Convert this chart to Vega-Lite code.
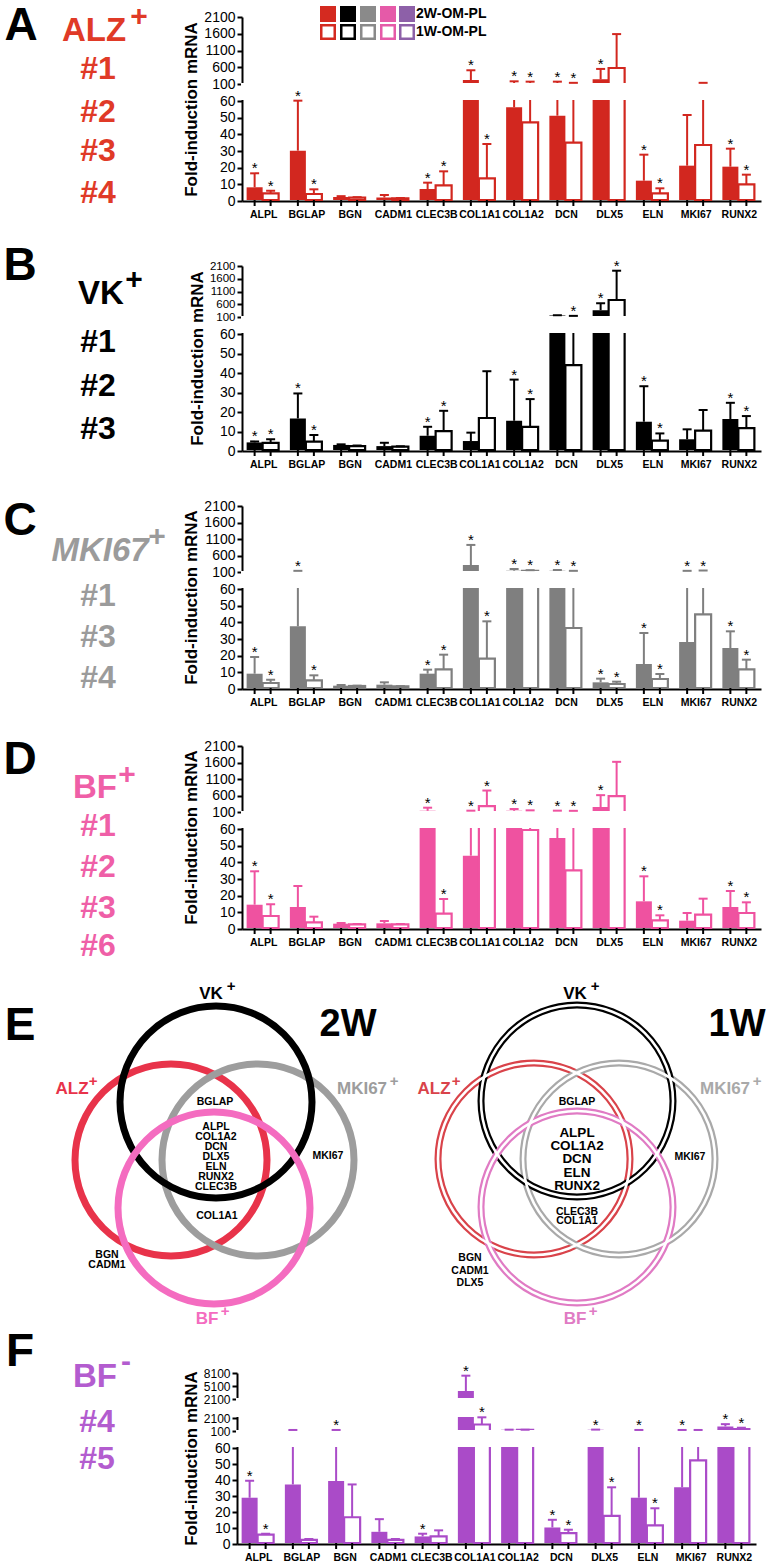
{
"$schema":"https://vega.github.io/schema/vega-lite/v6.json",
"padding":0,
"spacing":0,
"config":{"view":{"stroke":null},"font":"Liberation Sans","axis":{"labelFont":"Liberation Sans","titleFont":"Liberation Sans"}},
"datasets":{
"dA":[
{"g":"ALPL","w":"2W","m":7.6,"u":16,"s":1},{"g":"ALPL","w":"1W","m":4,"u":5.6,"s":1},
{"g":"BGLAP","w":"2W","m":29.6,"u":59.6,"s":1},{"g":"BGLAP","w":"1W","m":3.6,"u":6.4,"s":1},
{"g":"BGN","w":"2W","m":1.8,"u":2.3,"s":0},{"g":"BGN","w":"1W","m":1.4,"u":1.7,"s":0},
{"g":"CADM1","w":"2W","m":1.5,"u":3,"s":0},{"g":"CADM1","w":"1W","m":1,"u":1.2,"s":0},
{"g":"CLEC3B","w":"2W","m":6.6,"u":10.4,"s":1},{"g":"CLEC3B","w":"1W","m":8.8,"u":17.2,"s":1},
{"g":"COL1A1","w":"2W","m":190,"u":480,"s":1},{"g":"COL1A1","w":"1W","m":13,"u":33.6,"s":1},
{"g":"COL1A2","w":"2W","m":55.6,"u":150,"s":1},{"g":"COL1A2","w":"1W","m":46.6,"u":140,"s":1},
{"g":"DCN","w":"2W","m":50.6,"u":140,"s":1},{"g":"DCN","w":"1W","m":34.4,"u":105,"s":1},
{"g":"DLX5","w":"2W","m":210,"u":520,"s":1},{"g":"DLX5","w":"1W","m":548,"u":1560,"s":0},
{"g":"ELN","w":"2W","m":11.6,"u":27.2,"s":1},{"g":"ELN","w":"1W","m":4,"u":7,"s":1},
{"g":"MKI67","w":"2W","m":20.6,"u":51,"s":0},{"g":"MKI67","w":"1W","m":33,"u":105,"s":0},
{"g":"RUNX2","w":"2W","m":20,"u":30.8,"s":1},{"g":"RUNX2","w":"1W","m":9.4,"u":15.2,"s":1}],
"dB":[
{"g":"ALPL","w":"2W","m":3.9,"u":4.4,"s":1},{"g":"ALPL","w":"1W","m":3.7,"u":5.5,"s":1},
{"g":"BGLAP","w":"2W","m":16.2,"u":29,"s":1},{"g":"BGLAP","w":"1W","m":4.3,"u":7.7,"s":1},
{"g":"BGN","w":"2W","m":2.6,"u":2.9,"s":0},{"g":"BGN","w":"1W","m":2,"u":2.3,"s":0},
{"g":"CADM1","w":"2W","m":2,"u":3.7,"s":0},{"g":"CADM1","w":"1W","m":1.7,"u":1.9,"s":0},
{"g":"CLEC3B","w":"2W","m":7.3,"u":11.9,"s":1},{"g":"CLEC3B","w":"1W","m":9.7,"u":20.1,"s":1},
{"g":"COL1A1","w":"2W","m":4.6,"u":8.9,"s":0},{"g":"COL1A1","w":"1W","m":16.4,"u":40.4,"s":0},
{"g":"COL1A2","w":"2W","m":15,"u":36.1,"s":1},{"g":"COL1A2","w":"1W","m":11.9,"u":26.1,"s":1},
{"g":"DCN","w":"2W","m":115,"u":130,"s":0},{"g":"DCN","w":"1W","m":43.5,"u":105,"s":1},
{"g":"DLX5","w":"2W","m":330,"u":600,"s":1},{"g":"DLX5","w":"1W","m":727,"u":1876,"s":1},
{"g":"ELN","w":"2W","m":14.5,"u":32.7,"s":1},{"g":"ELN","w":"1W","m":4.8,"u":8.5,"s":1},
{"g":"MKI67","w":"2W","m":5.5,"u":10.6,"s":0},{"g":"MKI67","w":"1W","m":9.9,"u":20.5,"s":0},
{"g":"RUNX2","w":"2W","m":15.9,"u":24.2,"s":1},{"g":"RUNX2","w":"1W","m":11.2,"u":17.4,"s":1}],
"dC":[
{"g":"ALPL","w":"2W","m":8.6,"u":18.6,"s":1},{"g":"ALPL","w":"1W","m":3,"u":5,"s":1},
{"g":"BGLAP","w":"2W","m":37,"u":105,"s":1},{"g":"BGLAP","w":"1W","m":4.6,"u":7.6,"s":1},
{"g":"BGN","w":"2W","m":1.4,"u":1.8,"s":0},{"g":"BGN","w":"1W","m":1.2,"u":1.4,"s":0},
{"g":"CADM1","w":"2W","m":2,"u":3.4,"s":0},{"g":"CADM1","w":"1W","m":1,"u":1.1,"s":0},
{"g":"CLEC3B","w":"2W","m":8.6,"u":11,"s":1},{"g":"CLEC3B","w":"1W","m":11.2,"u":20,"s":1},
{"g":"COL1A1","w":"2W","m":280,"u":890,"s":1},{"g":"COL1A1","w":"1W","m":17.6,"u":40,"s":1},
{"g":"COL1A2","w":"2W","m":110,"u":160,"s":1},{"g":"COL1A2","w":"1W","m":105,"u":125,"s":1},
{"g":"DCN","w":"2W","m":105,"u":130,"s":1},{"g":"DCN","w":"1W","m":36,"u":105,"s":1},
{"g":"DLX5","w":"2W","m":3.4,"u":5.6,"s":1},{"g":"DLX5","w":"1W","m":2.4,"u":3.8,"s":1},
{"g":"ELN","w":"2W","m":14.4,"u":33,"s":1},{"g":"ELN","w":"1W","m":5.4,"u":8.4,"s":1},
{"g":"MKI67","w":"2W","m":27.6,"u":105,"s":1},{"g":"MKI67","w":"1W","m":44.2,"u":115,"s":1},
{"g":"RUNX2","w":"2W","m":24,"u":34,"s":1},{"g":"RUNX2","w":"1W","m":11.2,"u":17,"s":1}],
"dD":[
{"g":"ALPL","w":"2W","m":14,"u":34,"s":1},{"g":"ALPL","w":"1W","m":7.2,"u":14.2,"s":1},
{"g":"BGLAP","w":"2W","m":12.6,"u":25.2,"s":0},{"g":"BGLAP","w":"1W","m":3.4,"u":6.8,"s":0},
{"g":"BGN","w":"2W","m":2.6,"u":3,"s":0},{"g":"BGN","w":"1W","m":2.2,"u":2.4,"s":0},
{"g":"CADM1","w":"2W","m":2.8,"u":4.2,"s":0},{"g":"CADM1","w":"1W","m":2.2,"u":2.4,"s":0},
{"g":"CLEC3B","w":"2W","m":105,"u":200,"s":1},{"g":"CLEC3B","w":"1W","m":8.6,"u":17.4,"s":1},
{"g":"COL1A1","w":"2W","m":43.4,"u":110,"s":1},{"g":"COL1A1","w":"1W","m":250,"u":720,"s":1},
{"g":"COL1A2","w":"2W","m":105,"u":160,"s":1},{"g":"COL1A2","w":"1W","m":58.8,"u":120,"s":1},
{"g":"DCN","w":"2W","m":54,"u":110,"s":1},{"g":"DCN","w":"1W","m":34.6,"u":105,"s":1},
{"g":"DLX5","w":"2W","m":220,"u":580,"s":1},{"g":"DLX5","w":"1W","m":550,"u":1590,"s":0},
{"g":"ELN","w":"2W","m":16,"u":31,"s":1},{"g":"ELN","w":"1W","m":4.6,"u":7.6,"s":1},
{"g":"MKI67","w":"2W","m":4.4,"u":9,"s":0},{"g":"MKI67","w":"1W","m":8,"u":17.6,"s":0},
{"g":"RUNX2","w":"2W","m":12.6,"u":22.2,"s":1},{"g":"RUNX2","w":"1W","m":9,"u":15.4,"s":1}],
"dF":[
{"g":"ALPL","w":"2W","m":28.3,"u":38.9,"s":1},{"g":"ALPL","w":"1W","m":5.2,"u":5.8,"s":1},
{"g":"BGLAP","w":"2W","m":36.6,"u":105,"s":0},{"g":"BGLAP","w":"1W","m":2,"u":2.5,"s":0},
{"g":"BGN","w":"2W","m":38.7,"u":105,"s":1},{"g":"BGN","w":"1W","m":16.1,"u":36.6,"s":0},
{"g":"CADM1","w":"2W","m":7,"u":14.9,"s":0},{"g":"CADM1","w":"1W","m":1.9,"u":2.5,"s":0},
{"g":"CLEC3B","w":"2W","m":4.1,"u":5.8,"s":1},{"g":"CLEC3B","w":"1W","m":4.1,"u":7.9,"s":0},
{"g":"COL1A1","w":"2W","m":3700,"u":7250,"s":1},{"g":"COL1A1","w":"1W","m":950,"u":2050,"s":1},
{"g":"COL1A2","w":"2W","m":130,"u":150,"s":0},{"g":"COL1A2","w":"1W","m":120,"u":140,"s":0},
{"g":"DCN","w":"2W","m":9.7,"u":14.5,"s":1},{"g":"DCN","w":"1W","m":6.2,"u":8.3,"s":1},
{"g":"DLX5","w":"2W","m":130,"u":160,"s":1},{"g":"DLX5","w":"1W","m":17,"u":34.8,"s":1},
{"g":"ELN","w":"2W","m":28.3,"u":105,"s":1},{"g":"ELN","w":"1W","m":11,"u":21.7,"s":1},
{"g":"MKI67","w":"2W","m":34.8,"u":105,"s":1},{"g":"MKI67","w":"1W","m":51.7,"u":105,"s":0},
{"g":"RUNX2","w":"2W","m":650,"u":1000,"s":1},{"g":"RUNX2","w":"1W","m":250,"u":450,"s":1}],
"leg":[
{"r":"2W","x":325,"y":14,"c":"lALZ"},{"r":"2W","x":345,"y":14,"c":"lVK"},{"r":"2W","x":365,"y":14,"c":"lMKI"},{"r":"2W","x":385,"y":14,"c":"lBF"},{"r":"2W","x":404,"y":14,"c":"lBFn"},
{"r":"1W","x":325,"y":32,"c":"lALZ"},{"r":"1W","x":345,"y":32,"c":"lVK"},{"r":"1W","x":365,"y":32,"c":"lMKI"},{"r":"1W","x":385,"y":32,"c":"lBF"},{"r":"1W","x":404,"y":32,"c":"lBFn"}],
"labTop":[
{"t":"A","x":21,"y":26,"k":"letter","c":"ink"},
{"t":"ALZ","x":94,"y":31,"k":"name","c":"ALZ"},
{"t":"+","x":139,"y":17,"k":"plus","c":"ALZ"},
{"t":"#1","x":98,"y":69,"k":"id","c":"ALZ"},
{"t":"#2","x":98,"y":112,"k":"id","c":"ALZ"},
{"t":"#3","x":98,"y":151,"k":"id","c":"ALZ"},
{"t":"#4","x":98,"y":193,"k":"id","c":"ALZ"},
{"t":"B","x":20,"y":266,"k":"letter","c":"ink"},
{"t":"VK","x":101,"y":294,"k":"name","c":"VK"},
{"t":"+","x":134,"y":280,"k":"plus","c":"VK"},
{"t":"#1","x":98,"y":342,"k":"id","c":"VK"},
{"t":"#2","x":98,"y":386,"k":"id","c":"VK"},
{"t":"#3","x":98,"y":429,"k":"id","c":"VK"},
{"t":"C","x":20,"y":521,"k":"letter","c":"ink"},
{"t":"MKI67","x":100,"y":551,"k":"nameI","c":"MKI67"},
{"t":"+","x":157,"y":537,"k":"plus","c":"MKI67"},
{"t":"#1","x":98,"y":596,"k":"id","c":"MKI67"},
{"t":"#3","x":98,"y":637,"k":"id","c":"MKI67"},
{"t":"#4","x":98,"y":678,"k":"id","c":"MKI67"},
{"t":"D","x":20,"y":760,"k":"letter","c":"ink"},
{"t":"BF","x":95,"y":788,"k":"name","c":"BF"},
{"t":"+","x":127,"y":775,"k":"plus","c":"BF"},
{"t":"#1","x":98,"y":826,"k":"id","c":"BF"},
{"t":"#2","x":98,"y":867,"k":"id","c":"BF"},
{"t":"#3","x":98,"y":908,"k":"id","c":"BF"},
{"t":"#6","x":98,"y":946,"k":"id","c":"BF"}],
"labF":[
{"t":"F","x":20,"y":1352,"k":"letter","c":"ink"},
{"t":"BF","x":95,"y":1377,"k":"name","c":"BFn"},
{"t":"-","x":126,"y":1362,"k":"plus","c":"BFn"},
{"t":"#4","x":97,"y":1422,"k":"id","c":"BFn"},
{"t":"#5","x":97,"y":1459,"k":"id","c":"BFn"}],
"vc":[
{"v":"2W","x":171,"y":1160,"c":"vALZ2"},{"v":"2W","x":258,"y":1160,"c":"vMKI2"},{"v":"2W","x":216,"y":1102,"c":"ink"},{"v":"2W","x":214,"y":1208,"c":"vBF2"},
{"v":"1W","x":534,"y":1159,"c":"vALZ1"},{"v":"1W","x":619,"y":1159,"c":"vMKI1"},{"v":"1W","x":577,"y":1101,"c":"ink"},{"v":"1W","x":577,"y":1207,"c":"vBF1"}],
"vt":[
{"t":"E","x":20,"y":1026,"k":"letter","c":"ink"},
{"t":"2W","x":348,"y":1025,"k":"big","c":"ink"},
{"t":"1W","x":737,"y":1025,"k":"big","c":"ink"},
{"t":"VK","x":211,"y":994,"k":"set","c":"ink"},{"t":"+","x":231,"y":986,"k":"splus","c":"ink"},
{"t":"ALZ","x":72,"y":1089,"k":"set","c":"vALZ2"},{"t":"+","x":93,"y":1081,"k":"splus","c":"vALZ2"},
{"t":"MKI67","x":362,"y":1089,"k":"set","c":"vMKI2"},{"t":"+","x":394,"y":1081,"k":"splus","c":"vMKI2"},
{"t":"BF","x":207,"y":1319,"k":"set","c":"vBF2"},{"t":"+","x":225,"y":1311,"k":"splus","c":"vBF2"},
{"t":"VK","x":575,"y":994,"k":"set","c":"ink"},{"t":"+","x":595,"y":986,"k":"splus","c":"ink"},
{"t":"ALZ","x":434,"y":1089,"k":"set","c":"vALZ1"},{"t":"+","x":456,"y":1081,"k":"splus","c":"vALZ1"},
{"t":"MKI67","x":725,"y":1089,"k":"set","c":"vMKI1"},{"t":"+","x":757,"y":1081,"k":"splus","c":"vMKI1"},
{"t":"BF","x":575,"y":1319,"k":"set","c":"vBF1"},{"t":"+","x":593,"y":1311,"k":"splus","c":"vBF1"},
{"t":"BGLAP","x":215,"y":1102,"k":"gene","c":"ink"},
{"t":"ALPL","x":216,"y":1127,"k":"gene","c":"ink"},
{"t":"COL1A2","x":216,"y":1137,"k":"gene","c":"ink"},
{"t":"DCN","x":216,"y":1147,"k":"gene","c":"ink"},
{"t":"DLX5","x":216,"y":1157,"k":"gene","c":"ink"},
{"t":"ELN","x":216,"y":1167,"k":"gene","c":"ink"},
{"t":"RUNX2","x":216,"y":1177,"k":"gene","c":"ink"},
{"t":"CLEC3B","x":216,"y":1187,"k":"gene","c":"ink"},
{"t":"MKI67","x":328,"y":1156,"k":"gene","c":"ink"},
{"t":"COL1A1","x":217,"y":1216,"k":"gene","c":"ink"},
{"t":"BGN","x":107,"y":1255,"k":"gene","c":"ink"},
{"t":"CADM1","x":107,"y":1265,"k":"gene","c":"ink"},
{"t":"BGLAP","x":577,"y":1102,"k":"gene","c":"ink"},
{"t":"MKI67","x":690,"y":1157,"k":"gene","c":"ink"},
{"t":"CLEC3B","x":577,"y":1212,"k":"gene","c":"ink"},
{"t":"COL1A1","x":577,"y":1221,"k":"gene","c":"ink"},
{"t":"BGN","x":470,"y":1258,"k":"gene","c":"ink"},
{"t":"CADM1","x":470,"y":1271,"k":"gene","c":"ink"},
{"t":"DLX5","x":470,"y":1283,"k":"gene","c":"ink"},
{"t":"ALPL","x":577,"y":1133,"k":"gene2","c":"ink"},
{"t":"COL1A2","x":577,"y":1146,"k":"gene2","c":"ink"},
{"t":"DCN","x":577,"y":1159,"k":"gene2","c":"ink"},
{"t":"ELN","x":577,"y":1173,"k":"gene2","c":"ink"},
{"t":"RUNX2","x":577,"y":1186,"k":"gene2","c":"ink"}]
},
"vconcat":[
{"hconcat":[
 {"width":181,"height":962,"data":{"name":"labTop"},
  "encoding":{"x":{"field":"x","type":"quantitative","scale":{"domain":[0,181],"nice":false,"zero":false},"axis":null},
   "y":{"field":"y","type":"quantitative","scale":{"domain":[0,962],"nice":false,"zero":false,"reverse":true},"axis":null},
   "text":{"field":"t"},
   "color":{"field":"c","type":"nominal","legend":null,"scale":{"domain":["ALZ","VK","MKI67","BF","BFn","ink","vALZ2","vMKI2","vBF2","vALZ1","vMKI1","vBF1","lALZ","lVK","lMKI","lBF","lBFn"],"range":["#e03a27","#000000","#9b9b9b","#ef5fa7","#b35ccf","#000000","#e8334a","#9d9d9d","#f46cc0","#d9434a","#a9a9a9","#e07bc4","#d42a20","#000000","#8a8a8a","#e55aa8","#8d60a8"]}}},
  "layer":[
   {"transform":[{"filter":"datum.k=='letter'"}],"mark":{"type":"text","fontSize":46,"fontWeight":"bold","baseline":"middle","align":"center"}},
   {"transform":[{"filter":"datum.k=='name'"}],"mark":{"type":"text","fontSize":33,"fontWeight":"bold","baseline":"middle","align":"center"}},
   {"transform":[{"filter":"datum.k=='nameI'"}],"mark":{"type":"text","fontSize":33,"fontWeight":"bold","fontStyle":"italic","baseline":"middle","align":"center"}},
   {"transform":[{"filter":"datum.k=='plus'"}],"mark":{"type":"text","fontSize":30,"fontWeight":"bold","baseline":"middle","align":"center"}},
   {"transform":[{"filter":"datum.k=='id'"}],"mark":{"type":"text","fontSize":32,"fontWeight":"bold","baseline":"middle","align":"center"}}
  ]},
 {"vconcat":[
  {"width":519,"height":200,
   "layer":[
    {"layer":[
     {"data":{"name":"dA"},
      "encoding":{"x":{"field":"g","type":"nominal","sort":null,"scale":{"paddingInner":0.26,"paddingOuter":0.13},"axis":{"title":null,"labelFontSize":10.5,"labelFontWeight":"bold","labelColor":"#000","labelAngle":0,"ticks":false,"labelPadding":8,"domainWidth":2,"domainColor":"#000","translate":1.5,"labelOverlap":false}},
       "xOffset":{"field":"w","type":"nominal","sort":["2W","1W"]},
       "y":{"field":"m","type":"quantitative","scale":{"domain":[0,60,100,2100],"range":[200,100,83,16],"nice":false,"zero":false},"axis":{"values":[0,10,20,30,40,50,60,100,600,1100,1600,2100],"format":"d","title":"Fold-induction mRNA","titleFontSize":17,"titleFontWeight":"bold","titleColor":"#000","labelFontSize":14,"labelColor":"#000","tickSize":5,"tickWidth":2,"tickColor":"#000","domainWidth":2,"domainColor":"#000","grid":false,"labelPadding":2,"titlePadding":3,"translate":1.5,"labelOverlap":false}}},
      "layer":[
       {"transform":[{"filter":"datum.w=='2W'"}],"mark":{"type":"bar","fill":"#d2271f"}},
       {"transform":[{"filter":"datum.w=='1W'"}],"mark":{"type":"bar","fill":"white","stroke":"#d2271f","strokeWidth":2.2}},
       {"mark":{"type":"rule","color":"#d2271f","strokeWidth":2},"encoding":{"y2":{"field":"u"}}}
      ]},
     {"data":{"values":[{}]},"mark":{"type":"rect","fill":"white"},"encoding":{"y":{"datum":60,"type":"quantitative","axis":{"values":[0,10,20,30,40,50,60,100,600,1100,1600,2100],"format":"d","title":"Fold-induction mRNA","titleFontSize":17,"titleFontWeight":"bold","titleColor":"#000","labelFontSize":14,"labelColor":"#000","tickSize":5,"tickWidth":2,"tickColor":"#000","domainWidth":2,"domainColor":"#000","grid":false,"labelPadding":2,"titlePadding":3,"translate":1.5,"labelOverlap":false}},"y2":{"datum":100}}},
     {"data":{"name":"dA"},
      "encoding":{"x":{"field":"g","type":"nominal","sort":null,"scale":{"paddingInner":0.26,"paddingOuter":0.13},"axis":{"title":null,"labelFontSize":10.5,"labelFontWeight":"bold","labelColor":"#000","labelAngle":0,"ticks":false,"labelPadding":8,"domainWidth":2,"domainColor":"#000","translate":1.5,"labelOverlap":false}},
       "xOffset":{"field":"w","type":"nominal","sort":["2W","1W"]},
       "y":{"field":"u","type":"quantitative","axis":{"values":[0,10,20,30,40,50,60,100,600,1100,1600,2100],"format":"d","title":"Fold-induction mRNA","titleFontSize":17,"titleFontWeight":"bold","titleColor":"#000","labelFontSize":14,"labelColor":"#000","tickSize":5,"tickWidth":2,"tickColor":"#000","domainWidth":2,"domainColor":"#000","grid":false,"labelPadding":2,"titlePadding":3,"translate":1.5,"labelOverlap":false}}},
      "layer":[
       {"mark":{"type":"tick","color":"#d2271f","thickness":2,"size":9,"orient":"horizontal","opacity":1}},
       {"transform":[{"filter":"datum.s==1"}],"mark":{"type":"text","text":"*","fontSize":15,"baseline":"alphabetic","color":"#000"}},
       {"mark":{"type":"rule","color":"#000","strokeWidth":2,"y2Offset":6},"encoding":{"y":{"datum":0,"type":"quantitative","axis":{"values":[0,10,20,30,40,50,60,100,600,1100,1600,2100],"format":"d","title":"Fold-induction mRNA","titleFontSize":17,"titleFontWeight":"bold","titleColor":"#000","labelFontSize":14,"labelColor":"#000","tickSize":5,"tickWidth":2,"tickColor":"#000","domainWidth":2,"domainColor":"#000","grid":false,"labelPadding":2,"titlePadding":3,"translate":1.5,"labelOverlap":false}},"y2":{"datum":0}}}
      ]}
    ]},
    {"layer":[
     {"data":{"name":"leg"},"transform":[{"filter":"datum.r=='2W'"}],"mark":{"type":"square","size":256,"filled":true,"opacity":1},
      "encoding":{"x":{"field":"x","type":"quantitative","scale":{"domain":[238,757],"nice":false,"zero":false},"axis":null},"y":{"field":"y","type":"quantitative","scale":{"domain":[0,200],"nice":false,"zero":false,"reverse":true},"axis":null},
       "fill":{"field":"c","type":"nominal","legend":null,"scale":{"domain":["ALZ","VK","MKI67","BF","BFn","ink","vALZ2","vMKI2","vBF2","vALZ1","vMKI1","vBF1","lALZ","lVK","lMKI","lBF","lBFn"],"range":["#e03a27","#000000","#9b9b9b","#ef5fa7","#b35ccf","#000000","#e8334a","#9d9d9d","#f46cc0","#d9434a","#a9a9a9","#e07bc4","#d42a20","#000000","#8a8a8a","#e55aa8","#8d60a8"]}}}},
     {"data":{"name":"leg"},"transform":[{"filter":"datum.r=='1W'"}],"mark":{"type":"square","size":182,"filled":true,"fill":"white","strokeWidth":2.5,"opacity":1},
      "encoding":{"x":{"field":"x","type":"quantitative","scale":{"domain":[238,757],"nice":false,"zero":false},"axis":null},"y":{"field":"y","type":"quantitative","scale":{"domain":[0,200],"nice":false,"zero":false,"reverse":true},"axis":null},
       "stroke":{"field":"c","type":"nominal","legend":null,"scale":{"domain":["ALZ","VK","MKI67","BF","BFn","ink","vALZ2","vMKI2","vBF2","vALZ1","vMKI1","vBF1","lALZ","lVK","lMKI","lBF","lBFn"],"range":["#e03a27","#000000","#9b9b9b","#ef5fa7","#b35ccf","#000000","#e8334a","#9d9d9d","#f46cc0","#d9434a","#a9a9a9","#e07bc4","#d42a20","#000000","#8a8a8a","#e55aa8","#8d60a8"]}}}},
     {"data":{"values":[{"t":"2W-OM-PL","x":413,"y":14},{"t":"1W-OM-PL","x":413,"y":32}]},"mark":{"type":"text","align":"left","baseline":"middle","fontSize":14,"fontWeight":"bold","color":"#000"},
      "encoding":{"x":{"field":"x","type":"quantitative","scale":{"domain":[238,757],"nice":false,"zero":false},"axis":null},"y":{"field":"y","type":"quantitative","scale":{"domain":[0,200],"nice":false,"zero":false,"reverse":true},"axis":null},"text":{"field":"t"}}}
    ]}
   ],
   "resolve":{"scale":{"x":"independent","y":"independent"}}},
  {"width":519,"height":230,
   "layer":[
     {"data":{"name":"dB"},
      "encoding":{"x":{"field":"g","type":"nominal","sort":null,"scale":{"paddingInner":0.26,"paddingOuter":0.13},"axis":{"title":null,"labelFontSize":10.5,"labelFontWeight":"bold","labelColor":"#000","labelAngle":0,"ticks":false,"labelPadding":8,"domainWidth":2,"domainColor":"#000","translate":1.5,"labelOverlap":false}},
       "xOffset":{"field":"w","type":"nominal","sort":["2W","1W"]},
       "y":{"field":"m","type":"quantitative","scale":{"domain":[0,60,100,2100],"range":[230,113,96,45],"nice":false,"zero":false},"axis":{"values":[0,10,20,30,40,50,60,100,600,1100,1600,2100],"format":"d","title":"Fold-induction mRNA","titleY":137,"titleFontSize":17,"titleFontWeight":"bold","titleColor":"#000","labelFontSize":{"condition":{"test":"datum.value>=100","value":11.5},"value":14},"labelColor":"#000","tickSize":5,"tickWidth":2,"tickColor":"#000","domainWidth":2,"domainColor":"#000","grid":false,"labelPadding":2,"titlePadding":3,"translate":1.5,"labelOverlap":false}}},
      "layer":[
       {"transform":[{"filter":"datum.w=='2W'"}],"mark":{"type":"bar","fill":"#000000"}},
       {"transform":[{"filter":"datum.w=='1W'"}],"mark":{"type":"bar","fill":"white","stroke":"#000000","strokeWidth":2.2}},
       {"mark":{"type":"rule","color":"#000000","strokeWidth":2},"encoding":{"y2":{"field":"u"}}}
      ]},
     {"data":{"values":[{}]},"mark":{"type":"rect","fill":"white"},"encoding":{"y":{"datum":60,"type":"quantitative","axis":{"values":[0,10,20,30,40,50,60,100,600,1100,1600,2100],"format":"d","title":"Fold-induction mRNA","titleY":137,"titleFontSize":17,"titleFontWeight":"bold","titleColor":"#000","labelFontSize":{"condition":{"test":"datum.value>=100","value":11.5},"value":14},"labelColor":"#000","tickSize":5,"tickWidth":2,"tickColor":"#000","domainWidth":2,"domainColor":"#000","grid":false,"labelPadding":2,"titlePadding":3,"translate":1.5,"labelOverlap":false}},"y2":{"datum":100}}},
     {"data":{"name":"dB"},
      "encoding":{"x":{"field":"g","type":"nominal","sort":null,"scale":{"paddingInner":0.26,"paddingOuter":0.13},"axis":{"title":null,"labelFontSize":10.5,"labelFontWeight":"bold","labelColor":"#000","labelAngle":0,"ticks":false,"labelPadding":8,"domainWidth":2,"domainColor":"#000","translate":1.5,"labelOverlap":false}},
       "xOffset":{"field":"w","type":"nominal","sort":["2W","1W"]},
       "y":{"field":"u","type":"quantitative","axis":{"values":[0,10,20,30,40,50,60,100,600,1100,1600,2100],"format":"d","title":"Fold-induction mRNA","titleY":137,"titleFontSize":17,"titleFontWeight":"bold","titleColor":"#000","labelFontSize":{"condition":{"test":"datum.value>=100","value":11.5},"value":14},"labelColor":"#000","tickSize":5,"tickWidth":2,"tickColor":"#000","domainWidth":2,"domainColor":"#000","grid":false,"labelPadding":2,"titlePadding":3,"translate":1.5,"labelOverlap":false}}},
      "layer":[
       {"mark":{"type":"tick","color":"#000000","thickness":2,"size":9,"orient":"horizontal","opacity":1}},
       {"transform":[{"filter":"datum.s==1"}],"mark":{"type":"text","text":"*","fontSize":15,"baseline":"alphabetic","color":"#000"}},
       {"mark":{"type":"rule","color":"#000","strokeWidth":2,"y2Offset":6},"encoding":{"y":{"datum":0,"type":"quantitative","axis":{"values":[0,10,20,30,40,50,60,100,600,1100,1600,2100],"format":"d","title":"Fold-induction mRNA","titleY":137,"titleFontSize":17,"titleFontWeight":"bold","titleColor":"#000","labelFontSize":{"condition":{"test":"datum.value>=100","value":11.5},"value":14},"labelColor":"#000","tickSize":5,"tickWidth":2,"tickColor":"#000","domainWidth":2,"domainColor":"#000","grid":false,"labelPadding":2,"titlePadding":3,"translate":1.5,"labelOverlap":false}},"y2":{"datum":0}}}
      ]}
   ]},
  {"width":519,"height":218,
   "layer":[
     {"data":{"name":"dC"},
      "encoding":{"x":{"field":"g","type":"nominal","sort":null,"scale":{"paddingInner":0.26,"paddingOuter":0.13},"axis":{"title":null,"labelFontSize":10.5,"labelFontWeight":"bold","labelColor":"#000","labelAngle":0,"ticks":false,"labelPadding":8,"domainWidth":2,"domainColor":"#000","translate":1.5,"labelOverlap":false}},
       "xOffset":{"field":"w","type":"nominal","sort":["2W","1W"]},
       "y":{"field":"m","type":"quantitative","scale":{"domain":[0,60,100,2100],"range":[218,118,101,35],"nice":false,"zero":false},"axis":{"values":[0,10,20,30,40,50,60,100,600,1100,1600,2100],"format":"d","title":"Fold-induction mRNA","titleY":126,"titleFontSize":17,"titleFontWeight":"bold","titleColor":"#000","labelFontSize":14,"labelColor":"#000","tickSize":5,"tickWidth":2,"tickColor":"#000","domainWidth":2,"domainColor":"#000","grid":false,"labelPadding":2,"titlePadding":3,"translate":1.5,"labelOverlap":false}}},
      "layer":[
       {"transform":[{"filter":"datum.w=='2W'"}],"mark":{"type":"bar","fill":"#7f7f7f"}},
       {"transform":[{"filter":"datum.w=='1W'"}],"mark":{"type":"bar","fill":"white","stroke":"#7f7f7f","strokeWidth":2.2}},
       {"mark":{"type":"rule","color":"#7f7f7f","strokeWidth":2},"encoding":{"y2":{"field":"u"}}}
      ]},
     {"data":{"values":[{}]},"mark":{"type":"rect","fill":"white"},"encoding":{"y":{"datum":60,"type":"quantitative","axis":{"values":[0,10,20,30,40,50,60,100,600,1100,1600,2100],"format":"d","title":"Fold-induction mRNA","titleY":126,"titleFontSize":17,"titleFontWeight":"bold","titleColor":"#000","labelFontSize":14,"labelColor":"#000","tickSize":5,"tickWidth":2,"tickColor":"#000","domainWidth":2,"domainColor":"#000","grid":false,"labelPadding":2,"titlePadding":3,"translate":1.5,"labelOverlap":false}},"y2":{"datum":100}}},
     {"data":{"name":"dC"},
      "encoding":{"x":{"field":"g","type":"nominal","sort":null,"scale":{"paddingInner":0.26,"paddingOuter":0.13},"axis":{"title":null,"labelFontSize":10.5,"labelFontWeight":"bold","labelColor":"#000","labelAngle":0,"ticks":false,"labelPadding":8,"domainWidth":2,"domainColor":"#000","translate":1.5,"labelOverlap":false}},
       "xOffset":{"field":"w","type":"nominal","sort":["2W","1W"]},
       "y":{"field":"u","type":"quantitative","axis":{"values":[0,10,20,30,40,50,60,100,600,1100,1600,2100],"format":"d","title":"Fold-induction mRNA","titleY":126,"titleFontSize":17,"titleFontWeight":"bold","titleColor":"#000","labelFontSize":14,"labelColor":"#000","tickSize":5,"tickWidth":2,"tickColor":"#000","domainWidth":2,"domainColor":"#000","grid":false,"labelPadding":2,"titlePadding":3,"translate":1.5,"labelOverlap":false}}},
      "layer":[
       {"mark":{"type":"tick","color":"#7f7f7f","thickness":2,"size":9,"orient":"horizontal","opacity":1}},
       {"transform":[{"filter":"datum.s==1"}],"mark":{"type":"text","text":"*","fontSize":15,"baseline":"alphabetic","color":"#000"}},
       {"mark":{"type":"rule","color":"#000","strokeWidth":2,"y2Offset":6},"encoding":{"y":{"datum":0,"type":"quantitative","axis":{"values":[0,10,20,30,40,50,60,100,600,1100,1600,2100],"format":"d","title":"Fold-induction mRNA","titleY":126,"titleFontSize":17,"titleFontWeight":"bold","titleColor":"#000","labelFontSize":14,"labelColor":"#000","tickSize":5,"tickWidth":2,"tickColor":"#000","domainWidth":2,"domainColor":"#000","grid":false,"labelPadding":2,"titlePadding":3,"translate":1.5,"labelOverlap":false}},"y2":{"datum":0}}}
      ]}
   ]},
  {"width":519,"height":220,
   "layer":[
     {"data":{"name":"dD"},
      "encoding":{"x":{"field":"g","type":"nominal","sort":null,"scale":{"paddingInner":0.26,"paddingOuter":0.13},"axis":{"title":null,"labelFontSize":10.5,"labelFontWeight":"bold","labelColor":"#000","labelAngle":0,"ticks":false,"labelPadding":8,"domainWidth":2,"domainColor":"#000","translate":1.5,"labelOverlap":false}},
       "xOffset":{"field":"w","type":"nominal","sort":["2W","1W"]},
       "y":{"field":"m","type":"quantitative","scale":{"domain":[0,60,100,2100],"range":[220,120,103,37],"nice":false,"zero":false},"axis":{"values":[0,10,20,30,40,50,60,100,600,1100,1600,2100],"format":"d","title":"Fold-induction mRNA","titleY":128,"titleFontSize":17,"titleFontWeight":"bold","titleColor":"#000","labelFontSize":14,"labelColor":"#000","tickSize":5,"tickWidth":2,"tickColor":"#000","domainWidth":2,"domainColor":"#000","grid":false,"labelPadding":2,"titlePadding":3,"translate":1.5,"labelOverlap":false}}},
      "layer":[
       {"transform":[{"filter":"datum.w=='2W'"}],"mark":{"type":"bar","fill":"#ef52a0"}},
       {"transform":[{"filter":"datum.w=='1W'"}],"mark":{"type":"bar","fill":"white","stroke":"#ef52a0","strokeWidth":2.2}},
       {"mark":{"type":"rule","color":"#ef52a0","strokeWidth":2},"encoding":{"y2":{"field":"u"}}}
      ]},
     {"data":{"values":[{}]},"mark":{"type":"rect","fill":"white"},"encoding":{"y":{"datum":60,"type":"quantitative","axis":{"values":[0,10,20,30,40,50,60,100,600,1100,1600,2100],"format":"d","title":"Fold-induction mRNA","titleY":128,"titleFontSize":17,"titleFontWeight":"bold","titleColor":"#000","labelFontSize":14,"labelColor":"#000","tickSize":5,"tickWidth":2,"tickColor":"#000","domainWidth":2,"domainColor":"#000","grid":false,"labelPadding":2,"titlePadding":3,"translate":1.5,"labelOverlap":false}},"y2":{"datum":100}}},
     {"data":{"name":"dD"},
      "encoding":{"x":{"field":"g","type":"nominal","sort":null,"scale":{"paddingInner":0.26,"paddingOuter":0.13},"axis":{"title":null,"labelFontSize":10.5,"labelFontWeight":"bold","labelColor":"#000","labelAngle":0,"ticks":false,"labelPadding":8,"domainWidth":2,"domainColor":"#000","translate":1.5,"labelOverlap":false}},
       "xOffset":{"field":"w","type":"nominal","sort":["2W","1W"]},
       "y":{"field":"u","type":"quantitative","axis":{"values":[0,10,20,30,40,50,60,100,600,1100,1600,2100],"format":"d","title":"Fold-induction mRNA","titleY":128,"titleFontSize":17,"titleFontWeight":"bold","titleColor":"#000","labelFontSize":14,"labelColor":"#000","tickSize":5,"tickWidth":2,"tickColor":"#000","domainWidth":2,"domainColor":"#000","grid":false,"labelPadding":2,"titlePadding":3,"translate":1.5,"labelOverlap":false}}},
      "layer":[
       {"mark":{"type":"tick","color":"#ef52a0","thickness":2,"size":9,"orient":"horizontal","opacity":1}},
       {"transform":[{"filter":"datum.s==1"}],"mark":{"type":"text","text":"*","fontSize":15,"baseline":"alphabetic","color":"#000"}},
       {"mark":{"type":"rule","color":"#000","strokeWidth":2,"y2Offset":6},"encoding":{"y":{"datum":0,"type":"quantitative","axis":{"values":[0,10,20,30,40,50,60,100,600,1100,1600,2100],"format":"d","title":"Fold-induction mRNA","titleY":128,"titleFontSize":17,"titleFontWeight":"bold","titleColor":"#000","labelFontSize":14,"labelColor":"#000","tickSize":5,"tickWidth":2,"tickColor":"#000","domainWidth":2,"domainColor":"#000","grid":false,"labelPadding":2,"titlePadding":3,"translate":1.5,"labelOverlap":false}},"y2":{"datum":0}}}
      ]}
   ]}
 ],"spacing":20,"bounds":"flush"}
],"spacing":0},
{"width":766,"height":366,
 "layer":[
  {"data":{"name":"vc"},"transform":[{"filter":"datum.v=='2W'"}],"mark":{"type":"point","shape":"circle","filled":false,"size":36864,"strokeWidth":7,"opacity":1},
   "encoding":{"x":{"field":"x","type":"quantitative","scale":{"domain":[0,766],"nice":false,"zero":false},"axis":null},"y":{"field":"y","type":"quantitative","scale":{"domain":[962,1328],"nice":false,"zero":false,"reverse":true},"axis":null},
    "stroke":{"field":"c","type":"nominal","legend":null,"scale":{"domain":["ALZ","VK","MKI67","BF","BFn","ink","vALZ2","vMKI2","vBF2","vALZ1","vMKI1","vBF1","lALZ","lVK","lMKI","lBF","lBFn"],"range":["#e03a27","#000000","#9b9b9b","#ef5fa7","#b35ccf","#000000","#e8334a","#9d9d9d","#f46cc0","#d9434a","#a9a9a9","#e07bc4","#d42a20","#000000","#8a8a8a","#e55aa8","#8d60a8"]}}}},
  {"data":{"name":"vc"},"transform":[{"filter":"datum.v=='1W'"}],"mark":{"type":"point","shape":"circle","filled":false,"size":36864,"strokeWidth":7,"opacity":1},
   "encoding":{"x":{"field":"x","type":"quantitative","scale":{"domain":[0,766],"nice":false,"zero":false},"axis":null},"y":{"field":"y","type":"quantitative","scale":{"domain":[962,1328],"nice":false,"zero":false,"reverse":true},"axis":null},
    "stroke":{"field":"c","type":"nominal","legend":null,"scale":{"domain":["ALZ","VK","MKI67","BF","BFn","ink","vALZ2","vMKI2","vBF2","vALZ1","vMKI1","vBF1","lALZ","lVK","lMKI","lBF","lBFn"],"range":["#e03a27","#000000","#9b9b9b","#ef5fa7","#b35ccf","#000000","#e8334a","#9d9d9d","#f46cc0","#d9434a","#a9a9a9","#e07bc4","#d42a20","#000000","#8a8a8a","#e55aa8","#8d60a8"]}}}},
  {"data":{"name":"vc"},"transform":[{"filter":"datum.v=='1W'"}],"mark":{"type":"point","shape":"circle","filled":false,"size":36864,"strokeWidth":2.6,"stroke":"white","opacity":1},
   "encoding":{"x":{"field":"x","type":"quantitative","scale":{"domain":[0,766],"nice":false,"zero":false},"axis":null},"y":{"field":"y","type":"quantitative","scale":{"domain":[962,1328],"nice":false,"zero":false,"reverse":true},"axis":null}}},
  {"data":{"name":"vt"},
   "encoding":{"x":{"field":"x","type":"quantitative","scale":{"domain":[0,766],"nice":false,"zero":false},"axis":null},"y":{"field":"y","type":"quantitative","scale":{"domain":[962,1328],"nice":false,"zero":false,"reverse":true},"axis":null},
    "text":{"field":"t"},
    "color":{"field":"c","type":"nominal","legend":null,"scale":{"domain":["ALZ","VK","MKI67","BF","BFn","ink","vALZ2","vMKI2","vBF2","vALZ1","vMKI1","vBF1","lALZ","lVK","lMKI","lBF","lBFn"],"range":["#e03a27","#000000","#9b9b9b","#ef5fa7","#b35ccf","#000000","#e8334a","#9d9d9d","#f46cc0","#d9434a","#a9a9a9","#e07bc4","#d42a20","#000000","#8a8a8a","#e55aa8","#8d60a8"]}}},
   "layer":[
    {"transform":[{"filter":"datum.k=='letter'"}],"mark":{"type":"text","fontSize":46,"fontWeight":"bold","baseline":"middle","align":"center"}},
    {"transform":[{"filter":"datum.k=='big'"}],"mark":{"type":"text","fontSize":38,"fontWeight":"bold","baseline":"middle","align":"center"}},
    {"transform":[{"filter":"datum.k=='set'"}],"mark":{"type":"text","fontSize":17,"fontWeight":"bold","baseline":"middle","align":"center"}},
    {"transform":[{"filter":"datum.k=='splus'"}],"mark":{"type":"text","fontSize":15,"fontWeight":"bold","baseline":"middle","align":"center"}},
    {"transform":[{"filter":"datum.k=='gene'"}],"mark":{"type":"text","fontSize":10.5,"fontWeight":"bold","baseline":"middle","align":"center"}},
    {"transform":[{"filter":"datum.k=='gene2'"}],"mark":{"type":"text","fontSize":13.5,"fontWeight":"bold","baseline":"middle","align":"center"}}
   ]}
 ]},
{"hconcat":[
 {"width":181,"height":215,"data":{"name":"labF"},
  "encoding":{"x":{"field":"x","type":"quantitative","scale":{"domain":[0,181],"nice":false,"zero":false},"axis":null},
   "y":{"field":"y","type":"quantitative","scale":{"domain":[1328,1543],"nice":false,"zero":false,"reverse":true},"axis":null},
   "text":{"field":"t"},
   "color":{"field":"c","type":"nominal","legend":null,"scale":{"domain":["ALZ","VK","MKI67","BF","BFn","ink","vALZ2","vMKI2","vBF2","vALZ1","vMKI1","vBF1","lALZ","lVK","lMKI","lBF","lBFn"],"range":["#e03a27","#000000","#9b9b9b","#ef5fa7","#b35ccf","#000000","#e8334a","#9d9d9d","#f46cc0","#d9434a","#a9a9a9","#e07bc4","#d42a20","#000000","#8a8a8a","#e55aa8","#8d60a8"]}}},
  "layer":[
   {"transform":[{"filter":"datum.k=='letter'"}],"mark":{"type":"text","fontSize":46,"fontWeight":"bold","baseline":"middle","align":"center"}},
   {"transform":[{"filter":"datum.k=='name'"}],"mark":{"type":"text","fontSize":33,"fontWeight":"bold","baseline":"middle","align":"center"}},
   {"transform":[{"filter":"datum.k=='plus'"}],"mark":{"type":"text","fontSize":30,"fontWeight":"bold","baseline":"middle","align":"center"}},
   {"transform":[{"filter":"datum.k=='id'"}],"mark":{"type":"text","fontSize":32,"fontWeight":"bold","baseline":"middle","align":"center"}}
  ]},
 {"width":519,"height":215,
   "layer":[
     {"data":{"name":"dF"},
      "encoding":{"x":{"field":"g","type":"nominal","sort":null,"scale":{"paddingInner":0.26,"paddingOuter":0.13},"axis":{"title":null,"labelFontSize":10.5,"labelFontWeight":"bold","labelColor":"#000","labelAngle":0,"ticks":false,"labelPadding":8,"domainWidth":2,"domainColor":"#000","translate":1.5,"labelOverlap":false}},
       "xOffset":{"field":"w","type":"nominal","sort":["2W","1W"]},
       "y":{"field":"m","type":"quantitative","scale":{"domain":[0,60,100,2100,2100.01,8100],"range":[215,119,102,89,70,44],"nice":false,"zero":false},"axis":{"values":[0,10,20,30,40,50,60,100,2100,2100.01,5100,8100],"format":"d","title":"Fold-induction mRNA","titleY":129,"titleFontSize":17,"titleFontWeight":"bold","titleColor":"#000","labelFontSize":{"condition":{"test":"datum.value>=100","value":12},"value":14},"labelColor":"#000","tickSize":5,"tickWidth":2,"tickColor":"#000","domainWidth":2,"domainColor":"#000","grid":false,"labelPadding":2,"titlePadding":3,"translate":1.5,"labelOverlap":false}}},
      "layer":[
       {"transform":[{"filter":"datum.w=='2W'"}],"mark":{"type":"bar","fill":"#aa4bc8"}},
       {"transform":[{"filter":"datum.w=='1W'"}],"mark":{"type":"bar","fill":"white","stroke":"#aa4bc8","strokeWidth":2.2}},
       {"mark":{"type":"rule","color":"#aa4bc8","strokeWidth":2},"encoding":{"y2":{"field":"u"}}}
      ]},
     {"data":{"values":[{}]},"mark":{"type":"rect","fill":"white"},"encoding":{"y":{"datum":60,"type":"quantitative","axis":{"values":[0,10,20,30,40,50,60,100,2100,2100.01,5100,8100],"format":"d","title":"Fold-induction mRNA","titleY":129,"titleFontSize":17,"titleFontWeight":"bold","titleColor":"#000","labelFontSize":{"condition":{"test":"datum.value>=100","value":12},"value":14},"labelColor":"#000","tickSize":5,"tickWidth":2,"tickColor":"#000","domainWidth":2,"domainColor":"#000","grid":false,"labelPadding":2,"titlePadding":3,"translate":1.5,"labelOverlap":false}},"y2":{"datum":100}}},
     {"data":{"values":[{}]},"mark":{"type":"rect","fill":"white"},"encoding":{"y":{"datum":2100,"type":"quantitative","axis":{"values":[0,10,20,30,40,50,60,100,2100,2100.01,5100,8100],"format":"d","title":"Fold-induction mRNA","titleY":129,"titleFontSize":17,"titleFontWeight":"bold","titleColor":"#000","labelFontSize":{"condition":{"test":"datum.value>=100","value":12},"value":14},"labelColor":"#000","tickSize":5,"tickWidth":2,"tickColor":"#000","domainWidth":2,"domainColor":"#000","grid":false,"labelPadding":2,"titlePadding":3,"translate":1.5,"labelOverlap":false}},"y2":{"datum":2100.01}}},
     {"data":{"name":"dF"},
      "encoding":{"x":{"field":"g","type":"nominal","sort":null,"scale":{"paddingInner":0.26,"paddingOuter":0.13},"axis":{"title":null,"labelFontSize":10.5,"labelFontWeight":"bold","labelColor":"#000","labelAngle":0,"ticks":false,"labelPadding":8,"domainWidth":2,"domainColor":"#000","translate":1.5,"labelOverlap":false}},
       "xOffset":{"field":"w","type":"nominal","sort":["2W","1W"]},
       "y":{"field":"u","type":"quantitative","axis":{"values":[0,10,20,30,40,50,60,100,2100,2100.01,5100,8100],"format":"d","title":"Fold-induction mRNA","titleY":129,"titleFontSize":17,"titleFontWeight":"bold","titleColor":"#000","labelFontSize":{"condition":{"test":"datum.value>=100","value":12},"value":14},"labelColor":"#000","tickSize":5,"tickWidth":2,"tickColor":"#000","domainWidth":2,"domainColor":"#000","grid":false,"labelPadding":2,"titlePadding":3,"translate":1.5,"labelOverlap":false}}},
      "layer":[
       {"mark":{"type":"tick","color":"#aa4bc8","thickness":2,"size":9,"orient":"horizontal","opacity":1}},
       {"transform":[{"filter":"datum.s==1"}],"mark":{"type":"text","text":"*","fontSize":15,"baseline":"alphabetic","color":"#000"}},
       {"mark":{"type":"rule","color":"#000","strokeWidth":2,"y2Offset":6},"encoding":{"y":{"datum":0,"type":"quantitative","axis":{"values":[0,10,20,30,40,50,60,100,2100,2100.01,5100,8100],"format":"d","title":"Fold-induction mRNA","titleY":129,"titleFontSize":17,"titleFontWeight":"bold","titleColor":"#000","labelFontSize":{"condition":{"test":"datum.value>=100","value":12},"value":14},"labelColor":"#000","tickSize":5,"tickWidth":2,"tickColor":"#000","domainWidth":2,"domainColor":"#000","grid":false,"labelPadding":2,"titlePadding":3,"translate":1.5,"labelOverlap":false}},"y2":{"datum":0}}}
      ]}
   ]}
],"spacing":0}
]
}
